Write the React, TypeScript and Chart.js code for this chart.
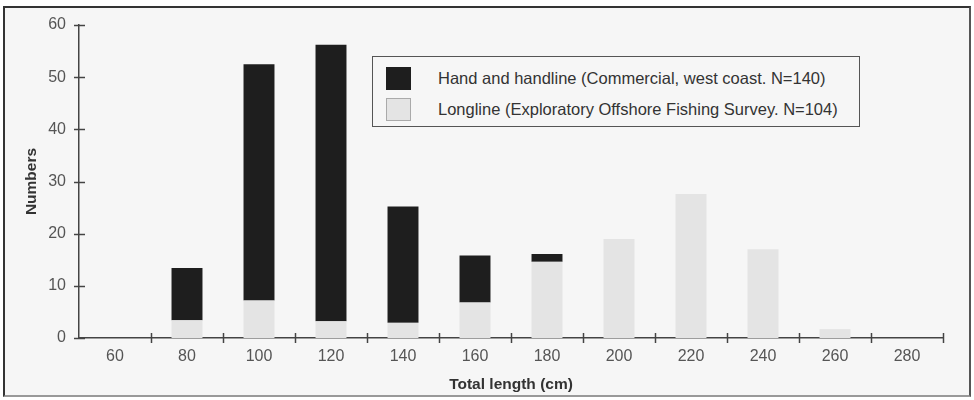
import React, { useEffect, useRef } from "react";
import { Chart, registerables } from "chart.js";

Chart.register(...registerables);

const categories = ["60", "80", "100", "120", "140", "160", "180", "200", "220", "240", "260", "280"];
const handline = [0, 10, 45.3, 53, 22.3, 9, 1.5, 0, 0, 0, 0, 0];
const longline = [0, 3.4, 7.2, 3.2, 2.9, 6.8, 14.6, 19, 27.6, 17, 1.7, 0];
const yTicks = [0, 10, 20, 30, 40, 50, 60];
const seriesNames = [
  "Hand and handline (Commercial, west coast. N=140)",
  "Longline (Exploratory Offshore Fishing Survey. N=104)",
];
const seriesColors = ["#1e1e1e", "#e4e4e4"];
const xTitle = "Total length (cm)";
const yTitle = "Numbers";

const FONT = "Arial, 'Liberation Sans', Helvetica, sans-serif";

const crossTicks = {
  id: "crossTicks",
  afterDraw(chart: any) {
    const { ctx, scales } = chart;
    const x = scales.x;
    const y = scales.y;
    ctx.save();
    ctx.strokeStyle = "#444";
    ctx.lineWidth = 1.5;
    yTicks.forEach((v) => {
      const py = Math.round(y.getPixelForValue(v)) + 0.5;
      ctx.beginPath();
      ctx.moveTo(x.left - 5, py);
      ctx.lineTo(x.left + 6, py);
      ctx.stroke();
    });
    const n = categories.length;
    const w = (x.right - x.left) / n;
    for (let i = 1; i <= n; i++) {
      const px = Math.round(x.getPixelForValue(i - 1) + w / 2) + 0.5;
      ctx.beginPath();
      ctx.moveTo(px, y.bottom - 5);
      ctx.lineTo(px, y.bottom + 5);
      ctx.stroke();
    }
    ctx.restore();
  },
};

export default function App() {
  const ref = useRef<HTMLCanvasElement | null>(null);

  useEffect(() => {
    if (!ref.current) return;
    const chart = new Chart(ref.current, {
      type: "bar",
      data: {
        labels: categories,
        datasets: [
          {
            label: seriesNames[1],
            data: longline,
            backgroundColor: seriesColors[1],
            borderWidth: 0,
            barPercentage: 0.43,
            categoryPercentage: 1,
          },
          {
            label: seriesNames[0],
            data: handline,
            backgroundColor: seriesColors[0],
            borderWidth: 0,
            barPercentage: 0.43,
            categoryPercentage: 1,
          },
        ],
      },
      options: {
        responsive: false,
        animation: false,
        layout: { padding: { top: 25, right: 31, bottom: 0, left: 0 } },
        plugins: {
          legend: { display: false },
          tooltip: { enabled: false },
        },
        scales: {
          x: {
            stacked: true,
            offset: true,
            grid: { display: false, drawTicks: false },
            border: { display: true, color: "#444", width: 1.5 },
            ticks: {
              color: "#555",
              font: { family: FONT, size: 16 },
              padding: 9,
              maxRotation: 0,
              autoSkip: false,
            },
            title: {
              display: true,
              text: xTitle,
              color: "#333",
              font: { family: FONT, size: 15.5, weight: "bold" },
              padding: { top: 0, bottom: 6 },
            },
            afterFit: (s: any) => {
              s.height = 62;
            },
          },
          y: {
            stacked: true,
            min: 0,
            max: 60,
            grid: { display: false, drawTicks: false },
            border: { display: true, color: "#444", width: 1.5 },
            ticks: {
              color: "#555",
              font: { family: FONT, size: 16 },
              stepSize: 10,
              padding: 13,
            },
            title: {
              display: true,
              text: yTitle,
              color: "#333",
              font: { family: FONT, size: 15.5, weight: "bold" },
              padding: { top: 22, bottom: 0 },
            },
            afterFit: (s: any) => {
              s.width = 79;
            },
          },
        },
      },
      plugins: [crossTicks],
    });
    return () => chart.destroy();
  }, []);

  return (
    <div style={{ position: "fixed", left: 0, top: 0, width: 974, height: 400, background: "#ffffff", overflow: "hidden" }}>
      <div
        style={{
          position: "absolute",
          left: 3,
          top: 6,
          width: 968,
          height: 391,
          boxSizing: "border-box",
          borderLeft: "2px solid #333",
          borderTop: "2px solid #333",
          borderRight: "2px solid #555",
          borderBottom: "2px solid #999",
          background: "#f6f6f6",
        }}
      />
      <canvas ref={ref} width={974} height={400} style={{ position: "absolute", left: 0, top: 0 }} />
      <div
        style={{
          position: "absolute",
          left: 372,
          top: 56,
          width: 488,
          height: 71,
          boxSizing: "border-box",
          border: "1.5px solid #555",
          background: "#f6f6f6",
          fontFamily: FONT,
          fontSize: 16.5,
          color: "#333",
        }}
      >
        {seriesNames.map((name, i) => (
          <div key={name} style={{ position: "absolute", left: 13, top: 10 + i * 31, height: 23, display: "flex", alignItems: "center", whiteSpace: "nowrap" }}>
            <span
              style={{
                display: "inline-block",
                width: 25,
                height: 23,
                boxSizing: "border-box",
                background: seriesColors[i],
                border: i === 1 ? "1px solid #aaa" : "none",
                marginRight: 27,
              }}
            />
            <span>{name}</span>
          </div>
        ))}
      </div>
    </div>
  );
}
